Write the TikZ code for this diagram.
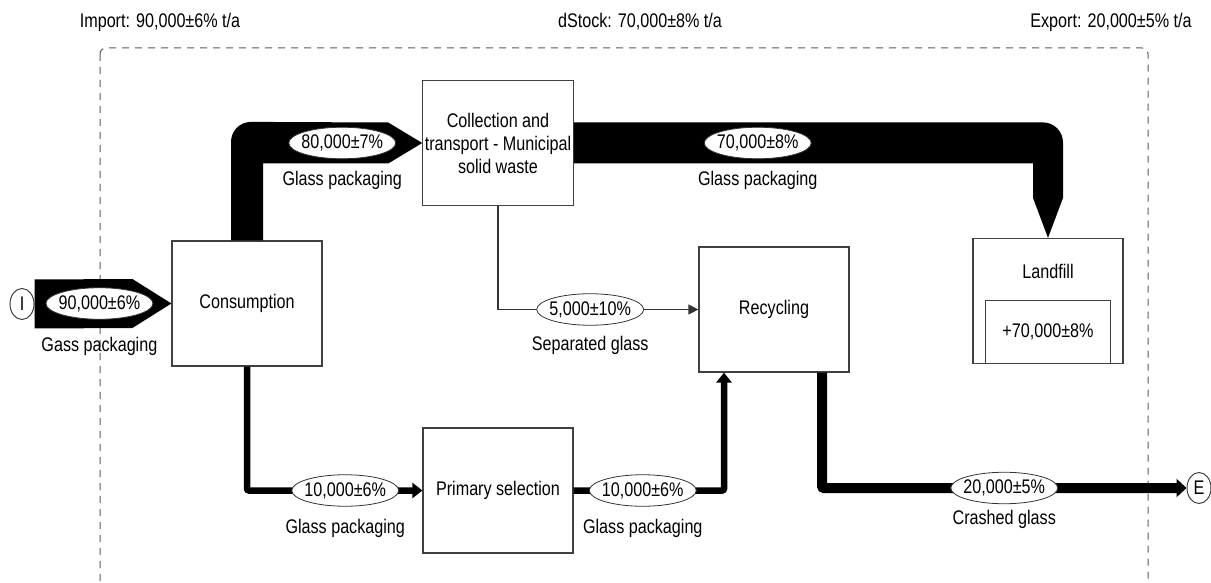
\documentclass[tikz,border=0pt]{standalone}
\usepackage{fontspec}
\setmainfont{Liberation Sans}[FakeStretch=0.82]
\usepackage{tikz}
\usetikzlibrary{shapes.geometric, arrows.meta, positioning}
\usetikzlibrary{calc}

\begin{document}
\begin{tikzpicture}[
    x=1pt, y=-1pt,
    font=\fontsize{19.7}{23}\selectfont,
    node distance = 12pt,
    box/.style      = {rectangle, draw=black!75, line width=1.2pt,
                       minimum width=150pt, minimum height=125pt,
                       fill=white, align=center, inner sep=2pt},
    amount/.style   = {ellipse, draw=black!80, line width=0.8pt, fill=white,
                       inner xsep=-3pt, inner ysep=3pt},
    term/.style     = {ellipse, draw=black!75, line width=1pt, fill=white,
                       minimum width=24pt, minimum height=31pt, inner sep=0pt},
    goods/.style    = {inner sep=3pt},
    flow/.style     = {fill=black},
    thinflow/.style = {draw=black, line width=6.5pt, rounded corners=2pt,
                       -{Triangle[length=10pt, width=15pt]}},
    expflow/.style  = {draw=black, line width=10pt, rounded corners=2pt,
                       -{Triangle[length=10pt, width=18pt]}},
    sepflow/.style  = {draw=black!80, line width=1.2pt,
                       -{Triangle[length=10pt, width=10pt]}},
    sysbound/.style = {draw=black!65, line width=1pt,
                       dash pattern=on 7pt off 6pt, rounded corners=6pt}
]
\useasboundingbox (0,0) rectangle (1211,583);

%% -- System boundary ---------------------------------------
\draw[sysbound] (100,48) rectangle (1148,588);
\node (importlbl) at (160,22) {Import: 90,000±6\% t/a};
\node (stocklbl)  at (640,22) {dStock: 70,000±8\% t/a};
\node (exportlbl) at (1111,22) {Export: 20,000±5\% t/a};

%% -- Processes ---------------------------------------------
\node[box] (cons)     at (247,303.5) {Consumption};
\node[box] (coll)     at (498,143)   {Collection and\\transport - Municipal\\solid waste};
\node[box] (recyc)    at (774,309.5) {Recycling};
\node[box] (prim)     at (498,490.5) {Primary selection};
\node[box] (landfill) at (1048,301)  {};
\node[below=23pt of landfill.north] (landlbl) {Landfill};
\node[box, minimum width=125pt, minimum height=63pt,
      above=0pt of landfill.south] (stock) {+70,000±8\%};

%% -- Import / export terminals -----------------------------
\node[term] (imp) at (22,304)  {I};
\node[term] (exp) at (1199,488) {E};

%% -- Flows: wide -------------------------------------------
\fill[flow] ($(imp.east)+(0,-24.5)$) -- ($(cons.west)+(-39,-24.5)$) -- (cons.west)
            -- ($(cons.west)+(-39,24.5)$) -- ($(imp.east)+(0,24.5)$) -- cycle;
\node[amount] (e90) at ($(cons.west)+(-72,0)$) {90,000±6\%};
\node[goods, below=14pt of e90] {Gass packaging};

\fill[flow] ($(cons.north)+(-16,0)$) -- ($(cons.north)+(-16,-98.5)$)
            arc[start angle=180, end angle=270, radius=20]
            -- ($(coll.west)+(-34,-20.5)$) -- (coll.west) -- ($(coll.west)+(-34,20.5)$)
            -| ($(cons.north)+(16,0)$) -- cycle;
\node[amount] (e80) at ($(coll.west)+(-80,0)$) {80,000±7\%};
\node[goods, below=9pt of e80] {Glass packaging};

\fill[flow] ($(coll.east)+(0,-20.5)$) -- ($(landfill.north)+(-5,-115.5)$)
            arc[start angle=270, end angle=360, radius=20]
            -- ($(landfill.north)+(15,-40)$) -- (landfill.north)
            -- ($(landfill.north)+(-15,-40)$) |- ($(coll.east)+(0,20.5)$) -- cycle;
\node[amount] (e70) at ($(coll.east)+(184,0)$) {70,000±8\%};
\node[goods, below=9pt of e70] {Glass packaging};

%% -- Flows: narrow -----------------------------------------
\draw[sepflow] (coll.south) |- node[amount, pos=0.73] (e5) {5,000±10\%} (recyc.west);
\node[goods, below=7pt of e5] {Separated glass};

\draw[thinflow] (cons.south) |- node[amount, pos=0.78] (e10a) {10,000±6\%} (prim.west);
\node[goods, below=9pt of e10a] {Glass packaging};

\draw[thinflow] (prim.east) -| node[amount, pos=0.23] (e10b) {10,000±6\%}
                ($(recyc.south)+(-50,0)$);
\node[goods, below=9pt of e10b] {Glass packaging};

\draw[expflow] ($(recyc.south)+(48,0)$) |- node[amount, pos=0.75] (e20) {20,000±5\%} (exp.west);
\node[goods, below=3pt of e20] {Crashed glass};

\end{tikzpicture}
\end{document}
